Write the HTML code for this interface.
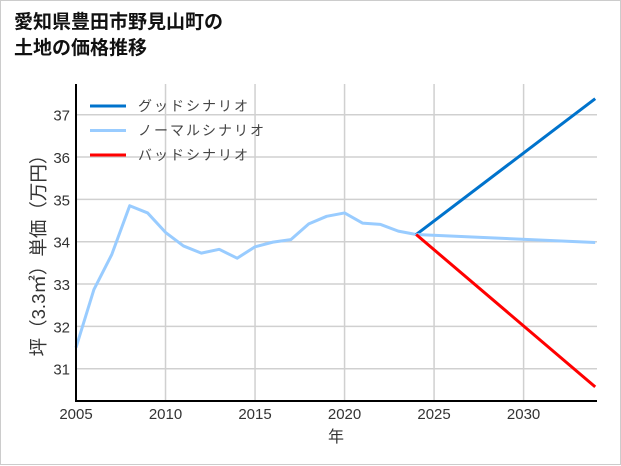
<!DOCTYPE html>
<html><head><meta charset="utf-8"><style>
body{margin:0;background:#fff}
#wrap{position:relative;width:619px;height:463px;border:1px solid #ccc;background:#fff;font-family:"Liberation Sans","Noto Sans CJK JP",sans-serif}
h1{position:absolute;left:13px;top:9px;margin:0;font-size:19px;line-height:26px;font-weight:bold;color:#111}
svg{position:absolute;left:0;top:0}
</style></head><body>
<div id="wrap">
<h1>愛知県豊田市野見山町の<br>土地の価格推移</h1>
<svg id="c" width="621" height="465"></svg>
</div>
<script>
const years=[2005,2006,2007,2008,2009,2010,2011,2012,2013,2014,2015,2016,2017,2018,2019,2020,2021,2022,2023,2024];
const hist=[31.5,32.87,33.7,34.85,34.68,34.22,33.9,33.73,33.82,33.61,33.88,33.99,34.05,34.42,34.6,34.68,34.44,34.41,34.25,34.17];
const fYears=[2024,2034];
const good=[34.17,37.38];
const normal=[34.17,33.98];
const bad=[34.17,30.57];
const yTicks=[31,32,33,34,35,36,37];
const xTicks=[2005,2010,2015,2020,2025,2030];
const NS="http://www.w3.org/2000/svg";
const svg=document.getElementById('c');
const X0=75,X1=596,Y0=400,YT=83;
const x=v=>X0+(v-2005)*(X1-X0)/(2034.1-2005);
const y=v=>367.7-(v-31)*42.33;
function el(t,a,name){const e=document.createElementNS(NS,t);for(const k in a)e.setAttribute(k,a[k]);


svg.appendChild(e);return e;}
yTicks.forEach(v=>{el('line',{x1:X0,x2:X1,y1:y(v),y2:y(v),stroke:'#d0d0d0','stroke-width':1.5},'y-gridline');
const t=el('text',{x:69,y:y(v)+6,'text-anchor':'end','font-size':15,fill:'#333'},'y-tick-label');t.textContent=v;});
xTicks.forEach(v=>{el('line',{x1:x(v),x2:x(v),y1:YT,y2:Y0,stroke:'#d0d0d0','stroke-width':1.5},'x-gridline');
const t=el('text',{x:x(v),y:418,'text-anchor':'middle','font-size':15,fill:'#333'},'x-tick-label');t.textContent=v;});
function line(xs,ys,col,name){el('polyline',{points:xs.map((v,i)=>x(v)+','+y(ys[i])).join(' '),fill:'none',stroke:col,'stroke-width':3,'stroke-linejoin':'round'},name);}
line(years,hist,'#99ccff','historical-line');
line(fYears,good,'#0073cc','good-scenario-line');
line(fYears,normal,'#99ccff','normal-scenario-line');
line(fYears,bad,'#ff0000','bad-scenario-line');
el('line',{x1:X0,x2:X0,y1:YT,y2:Y0+1,stroke:'#000','stroke-width':2},'y-axis-line');
el('line',{x1:X0-1,x2:X1,y1:Y0,y2:Y0,stroke:'#000','stroke-width':2},'x-axis-line');
const leg=[['グッドシナリオ','#0073cc'],['ノーマルシナリオ','#99ccff'],['バッドシナリオ','#ff0000']];
leg.forEach((l,i)=>{const yy=105+i*24.5;
el('line',{x1:89,x2:125,y1:yy,y2:yy,stroke:l[1],'stroke-width':3},'legend-swatch');
const t=el('text',{x:137,y:yy+5,'font-size':14,fill:'#444','letter-spacing':'2'},'legend-entry');t.textContent=l[0];});
const xt=el('text',{x:335,y:441,'text-anchor':'middle','font-size':16,fill:'#333'},'x-axis-title');xt.textContent='年';
const yt=el('text',{x:0,y:0,'text-anchor':'middle','font-size':18.5,fill:'#333',transform:'translate(44,250) rotate(-90)'},'y-axis-title');yt.textContent='坪（3.3㎡）単価（万円）';
</script>
</body></html>
